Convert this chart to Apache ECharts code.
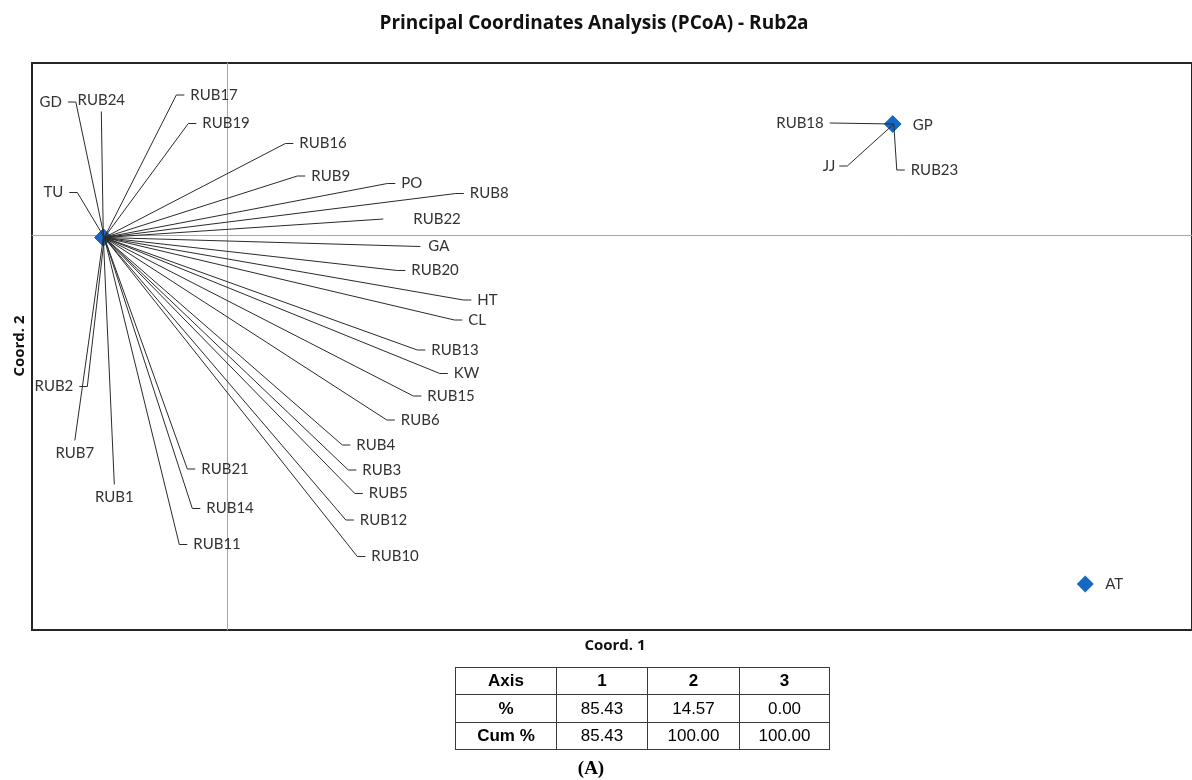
<!DOCTYPE html>
<html><head><meta charset="utf-8">
<script src="https://cdn.jsdelivr.net/npm/echarts@6/dist/echarts.min.js"></script>
<style>html,body{margin:0;padding:0;background:#fff}#main{width:1192px;height:780px}</style>
</head><body><div id="main"></div>
<script>
// ---------------- data ----------------
const sampleNames = ['GD','RUB24','RUB17','RUB19','RUB16','RUB9','PO','RUB8','RUB22','GA',
  'RUB20','HT','CL','RUB13','KW','RUB15','RUB6','RUB4','RUB3','RUB5',
  'RUB12','RUB10','RUB11','RUB14','RUB21','RUB1','RUB7','RUB2','TU',
  'RUB18','GP','JJ','RUB23','AT'];
const coord1 = [-0.1245,-0.1245,-0.1245,-0.1245,-0.1245,-0.1245,-0.1245,-0.1245,-0.1245,-0.1245,
  -0.1245,-0.1245,-0.1245,-0.1245,-0.1245,-0.1245,-0.1245,-0.1245,-0.1245,-0.1245,
  -0.1245,-0.1245,-0.1245,-0.1245,-0.1245,-0.1245,-0.1245,-0.1245,-0.1245,
  0.667,0.667,0.667,0.667,0.860];
const coord2 = [-0.0025,-0.0025,-0.0025,-0.0025,-0.0025,-0.0025,-0.0025,-0.0025,-0.0025,-0.0025,
  -0.0025,-0.0025,-0.0025,-0.0025,-0.0025,-0.0025,-0.0025,-0.0025,-0.0025,-0.0025,
  -0.0025,-0.0025,-0.0025,-0.0025,-0.0025,-0.0025,-0.0025,-0.0025,-0.0025,
  0.111,0.111,0.111,0.111,-0.349];
const coord1Range = [-0.196, 0.967];
const coord2Range = [-0.395, 0.172];

const tableAxes = ['1','2','3'];
const pctVariance = ['85.43','14.57','0.00'];
const cumVariance = ['85.43','100.00','100.00'];

// ---------------- label placement (pixel offsets from each point) ----------------
// [dx, dy, align, leader, gap, len]
const P = {
  GD:[-41.5,-135.5,'right','side'],
  RUB24:[-2,-137,'center','bottom'],
  RUB17:[87,-142.5,'left','side'],
  RUB19:[99,-114,'left','side'],
  RUB16:[196,-94,'left','side'],
  RUB9:[208,-61.5,'left','side'],
  PO:[298,-54,'left','side'],
  RUB8:[366.5,-44,'left','side'],
  RUB22:[310,-18.5,'left','side',30,0],
  GA:[325,9,'left','side',8,0],
  RUB20:[308,33,'left','side'],
  HT:[374,62.5,'left','side'],
  CL:[365,82.5,'left','side'],
  RUB13:[328,112.5,'left','side'],
  KW:[350.5,136,'left','side'],
  RUB15:[324,158.5,'left','side'],
  RUB6:[297.5,182.5,'left','side'],
  RUB4:[253,207.5,'left','side'],
  RUB3:[259,232.5,'left','side'],
  RUB5:[265.5,256,'left','side'],
  RUB12:[256.5,282.5,'left','side'],
  RUB10:[268,319,'left','side'],
  RUB11:[90,307,'left','side'],
  RUB14:[103,271,'left','side'],
  RUB21:[98,231.5,'left','side'],
  RUB1:[11,260,'center','top'],
  RUB7:[-28.5,216,'center','top'],
  RUB2:[-30,149,'right','side'],
  TU:[-40,-45,'right','side'],
  RUB18:[-69,-1,'right','side',6,0],
  GP:[20,1.5,'left','none'],
  JJ:[-57.5,42,'right','side',4,8],
  RUB23:[18,46,'left','side'],
  AT:[20,0,'left','none']
};

const LABEL_FONT = 'Lato';
const chart = echarts.init(document.getElementById('main'));

const points = sampleNames.map((n, i) => ({ name: n, value: [coord1[i], coord2[i]] }));

function renderLabel(params, api) {
  const name = sampleNames[params.dataIndex];
  const p = api.coord([api.value(0), api.value(1)]);
  const L = P[name];
  const tx = p[0] + L[0], ty = p[1] + L[1];
  const gap = L[4] != null ? L[4] : 6;
  const len = L[5] != null ? L[5] : 8;
  const children = [];
  let pts = null;
  if (L[3] === 'side') {
    if (L[2] === 'left') {
      const e2 = tx - gap, e1 = e2 - len;
      pts = [[p[0] + 1, p[1]], [e1, ty], [e2, ty]];
    } else {
      const e2 = tx + gap, e1 = e2 + len;
      pts = [[p[0] + 1, p[1]], [e1, ty], [e2, ty]];
    }
  } else if (L[3] === 'top') {
    pts = [[p[0], p[1]], [tx, ty - 13]];
  } else if (L[3] === 'bottom') {
    pts = [[p[0], p[1]], [tx, ty + 11]];
  }
  if (pts) {
    children.push({ type: 'polyline', shape: { points: pts },
      style: { stroke: '#2b2b2b', lineWidth: 1, fill: null } });
  }
  children.push({ type: 'text', style: { text: name, x: tx, y: ty, align: L[2], verticalAlign: 'middle',
    fontFamily: LABEL_FONT, fontSize: 15, fill: '#333' } });
  return { type: 'group', children };
}

// table graphic
const colX = [455, 556, 647, 739, 829];
const rowY = [667, 694, 722, 749];
const tableRows = [['Axis'].concat(tableAxes), ['%'].concat(pctVariance), ['Cum %'].concat(cumVariance)];
const tableEls = [];
for (let i = 0; i < colX.length; i++) {
  tableEls.push({ type: 'line', shape: { x1: colX[i] + 0.5, y1: rowY[0], x2: colX[i] + 0.5, y2: rowY[rowY.length - 1] + 1 },
    style: { stroke: '#3a3a3a', lineWidth: 1 } });
}
for (let j = 0; j < rowY.length; j++) {
  tableEls.push({ type: 'line', shape: { x1: colX[0], y1: rowY[j] + 0.5, x2: colX[colX.length - 1] + 1, y2: rowY[j] + 0.5 },
    style: { stroke: '#3a3a3a', lineWidth: 1 } });
}
tableRows.forEach((row, r) => {
  row.forEach((txt, c) => {
    const bold = r === 0 || c === 0;
    tableEls.push({ type: 'text', style: {
      text: txt, x: (colX[c] + colX[c + 1]) / 2 + 0.5, y: (rowY[r] + rowY[r + 1]) / 2 + 1,
      align: 'center', verticalAlign: 'middle',
      fontFamily: 'Liberation Sans', fontSize: 17, fontWeight: bold ? 'bold' : 'normal', fill: '#000'
    } });
  });
});

chart.setOption({
  animation: false,
  backgroundColor: '#fff',
  grid: { left: 32, top: 63, width: 1163, height: 567, show: true, borderColor: '#262626', borderWidth: 2, backgroundColor: 'transparent' },
  xAxis: { type: 'value', min: coord1Range[0], max: coord1Range[1],
    axisLine: { show: true, onZero: true, lineStyle: { color: '#a6a6a6', width: 1 } },
    axisTick: { show: false }, axisLabel: { show: false }, splitLine: { show: false } },
  yAxis: { type: 'value', min: coord2Range[0], max: coord2Range[1],
    axisLine: { show: true, onZero: true, lineStyle: { color: '#a6a6a6', width: 1 } },
    axisTick: { show: false }, axisLabel: { show: false }, splitLine: { show: false } },
  series: [
    { type: 'scatter', symbol: 'diamond', symbolSize: 17, itemStyle: { color: '#1668c6', opacity: 1 }, data: points, z: 2 },
    { type: 'custom', renderItem: renderLabel, data: points, z: 3, encode: { x: 0, y: 1 } }
  ],
  graphic: [
    { type: 'text', style: { text: 'Principal Coordinates Analysis (PCoA) - Rub2a', x: 594, y: 24, align: 'center', verticalAlign: 'middle',
      fontFamily: 'Open Sans', fontWeight: 'bold', fontSize: 19, fill: '#111' } },
    { type: 'text', style: { text: 'Coord. 1', x: 615, y: 646, align: 'center', verticalAlign: 'middle',
      fontFamily: 'Open Sans', fontWeight: 'bold', fontSize: 15, fill: '#111' } },
    { type: 'text', x: 20, y: 346, rotation: Math.PI / 2, style: { text: 'Coord. 2', x: 0, y: 0, align: 'center', verticalAlign: 'middle',
      fontFamily: 'Open Sans', fontWeight: 'bold', fontSize: 15, fill: '#111' } },
    { type: 'group', children: tableEls },
    { type: 'text', style: { text: '(A)', x: 591, y: 769, align: 'center', verticalAlign: 'middle',
      fontFamily: 'Liberation Serif', fontWeight: 'bold', fontSize: 19, fill: '#000' } }
  ]
});
</script></body></html>
